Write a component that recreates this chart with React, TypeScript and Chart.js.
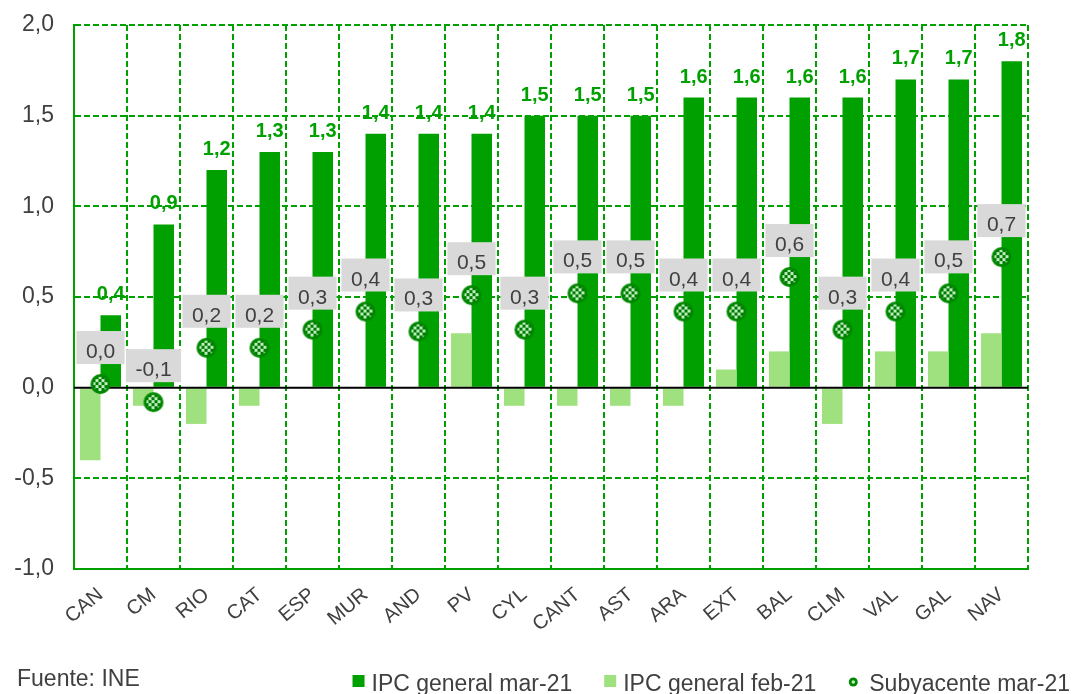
import React, { useEffect, useRef } from 'react';
import { Chart, registerables } from 'chart.js';

Chart.register(...registerables);

const categories = ['CAN', 'CM', 'RIO', 'CAT', 'ESP', 'MUR', 'AND', 'PV', 'CYL', 'CANT', 'AST', 'ARA', 'EXT', 'BAL', 'CLM', 'VAL', 'GAL', 'NAV'];
const ipcMar21 = [0.4, 0.9, 1.2, 1.3, 1.3, 1.4, 1.4, 1.4, 1.5, 1.5, 1.5, 1.6, 1.6, 1.6, 1.6, 1.7, 1.7, 1.8];
const ipcFeb21 = [-0.4, -0.1, -0.2, -0.1, 0, 0, 0, 0.3, -0.1, -0.1, -0.1, -0.1, 0.1, 0.2, -0.2, 0.2, 0.2, 0.3];
const subyMar21 = [0.02, -0.08, 0.22, 0.22, 0.32, 0.42, 0.31, 0.51, 0.32, 0.52, 0.52, 0.42, 0.42, 0.61, 0.32, 0.42, 0.52, 0.72];
const yMin = -1.0;
const yMax = 2.0;
const yStep = 0.5;
const seriesNames = ['IPC general mar-21', 'IPC general feb-21', 'Subyacente mar-21'];
const footerText = 'Fuente: INE';

const FONT = '"Liberation Sans", Arial, sans-serif';
const DARK = '#00A000';
const LIGHT = '#9FE07F';
const GRID = '#00A000';
const TEXT = '#404040';

const fmt = (v: number) => Number(v).toFixed(1).replace('.', ',');

function makeMarker(r: number) {
  const size = r * 2 + 2;
  const c = document.createElement('canvas');
  c.width = size;
  c.height = size;
  const g = c.getContext('2d')!;
  const cx = size / 2;
  g.beginPath();
  g.arc(cx, cx, r, 0, Math.PI * 2);
  g.fillStyle = '#008800';
  g.fill();
  g.save();
  g.beginPath();
  g.arc(cx, cx, r * 0.72, 0, Math.PI * 2);
  g.clip();
  const cell = 3;
  for (let y = 0; y < size; y += cell) {
    for (let x = 0; x < size; x += cell) {
      g.fillStyle = ((x / cell + y / cell) % 2 === 0) ? '#BDEEBD' : '#007A00';
      g.fillRect(x, y, cell, cell);
    }
  }
  g.restore();
  return c;
}

const overlayPlugin = {
  id: 'overlay',
  beforeDatasetDraw(chart: any, args: any) {
    if (args.meta.type !== 'line') return;
    const { ctx, chartArea } = chart;
    const y0 = chart.scales.y.getPixelForValue(0);
    ctx.save();
    ctx.strokeStyle = '#000000';
    ctx.lineWidth = 2;
    ctx.beginPath();
    ctx.moveTo(chartArea.left, y0);
    ctx.lineTo(chartArea.right, y0);
    ctx.stroke();
    ctx.restore();
  },
  afterDatasetsDraw(chart: any) {
    const { ctx } = chart;
    ctx.save();
    const metaMar = chart.getDatasetMeta(2);
    ctx.font = `bold 20px ${FONT}`;
    ctx.fillStyle = DARK;
    ctx.textAlign = 'center';
    ctx.textBaseline = 'alphabetic';
    metaMar.data.forEach((el: any, i: number) => {
      ctx.fillText(fmt(ipcMar21[i]), el.x, el.y - 15);
    });
    const metaSub = chart.getDatasetMeta(0);
    ctx.font = `21px ${FONT}`;
    metaSub.data.forEach((el: any, i: number) => {
      const t = fmt(subyMar21[i]);
      const w = ctx.measureText(t).width + 19;
      const h = 33;
      const top = el.y - 53;
      ctx.fillStyle = '#D9D9D9';
      ctx.fillRect(el.x - w / 2, top, w, h);
      ctx.fillStyle = TEXT;
      ctx.fillText(t, el.x, top + h - 6);
    });
    ctx.restore();
  },
  afterDraw(chart: any) {
    const { ctx } = chart;
    ctx.save();
    ctx.font = `23px ${FONT}`;
    ctx.fillStyle = TEXT;
    ctx.textAlign = 'left';
    ctx.textBaseline = 'alphabetic';
    ctx.fillText(footerText, 17, 686);
    const items = [
      { name: seriesNames[0], kind: 'box', color: DARK },
      { name: seriesNames[1], kind: 'box', color: LIGHT },
      { name: seriesNames[2], kind: 'dot', color: '#008800' },
    ];
    let x = 1070;
    const baseline = 691;
    for (let k = items.length - 1; k >= 0; k--) {
      const it = items[k];
      const tw = ctx.measureText(it.name).width;
      x -= tw;
      ctx.fillStyle = TEXT;
      ctx.fillText(it.name, x, baseline);
      if (it.kind === 'box') {
        ctx.fillStyle = it.color;
        ctx.fillRect(x - 19, 675, 12, 12);
        x -= 19;
      } else {
        ctx.beginPath();
        ctx.arc(x - 16, 682, 4.5, 0, Math.PI * 2);
        ctx.fillStyle = it.color;
        ctx.fill();
        ctx.beginPath();
        ctx.arc(x - 16, 682, 1.8, 0, Math.PI * 2);
        ctx.fillStyle = '#BDEEBD';
        ctx.fill();
        x -= 21;
      }
      x -= 32;
    }
    ctx.restore();
  },
};

export default function App() {
  const ref = useRef<HTMLCanvasElement | null>(null);
  useEffect(() => {
    document.body.style.margin = '0';
    const marker = makeMarker(10);
    const chart = new Chart(ref.current!, {
      type: 'bar',
      data: {
        labels: categories,
        datasets: [
          {
            type: 'line',
            label: seriesNames[2],
            data: subyMar21,
            showLine: false,
            pointStyle: marker as any,
            pointRadius: 10,
            pointHoverRadius: 10,
            order: 0,
          } as any,
          {
            type: 'bar',
            label: seriesNames[1],
            data: ipcFeb21,
            backgroundColor: LIGHT,
            borderWidth: 0,
            categoryPercentage: 0.774,
            barPercentage: 1.0,
            order: 1,
          },
          {
            type: 'bar',
            label: seriesNames[0],
            data: ipcMar21,
            backgroundColor: DARK,
            borderWidth: 0,
            categoryPercentage: 0.774,
            barPercentage: 1.0,
            order: 1,
          },
        ],
      },
      options: {
        animation: false,
        responsive: true,
        maintainAspectRatio: false,
        layout: { padding: { left: 0, right: 45, top: 25, bottom: 0 } },
        plugins: {
          legend: { display: false },
          tooltip: { enabled: false },
        },
        scales: {
          x: {
            grid: { color: GRID, lineWidth: 2, offset: true, drawTicks: false },
            border: { display: true, color: GRID, width: 2, dash: [6, 3] },
            ticks: {
              color: TEXT,
              font: { family: FONT, size: 20 },
              minRotation: 40,
              maxRotation: 40,
              autoSkip: false,
              padding: 14,
            },
            afterFit(scale: any) { scale.height = 125; },
          },
          y: {
            min: yMin,
            max: yMax,
            ticks: {
              stepSize: yStep,
              color: TEXT,
              font: { family: FONT, size: 23 },
              padding: 20,
              callback: (v: any) => fmt(Number(v)),
            },
            grid: {
              color: (c: any) => (c.tick && c.tick.value === 0 ? 'rgba(0,0,0,0)' : GRID),
              lineWidth: 2,
              drawTicks: false,
            },
            border: { display: true, color: GRID, width: 2, dash: [6, 3] },
            afterFit(scale: any) {
              scale.width = 74;
              scale.paddingTop = 0;
              scale.paddingBottom = 0;
            },
          },
        },
      } as any,
      plugins: [overlayPlugin],
    });
    return () => chart.destroy();
  }, []);
  return (
    <div style={{ position: 'relative', width: '1073px', height: '694px' }}>
      <canvas ref={ref} />
    </div>
  );
}
